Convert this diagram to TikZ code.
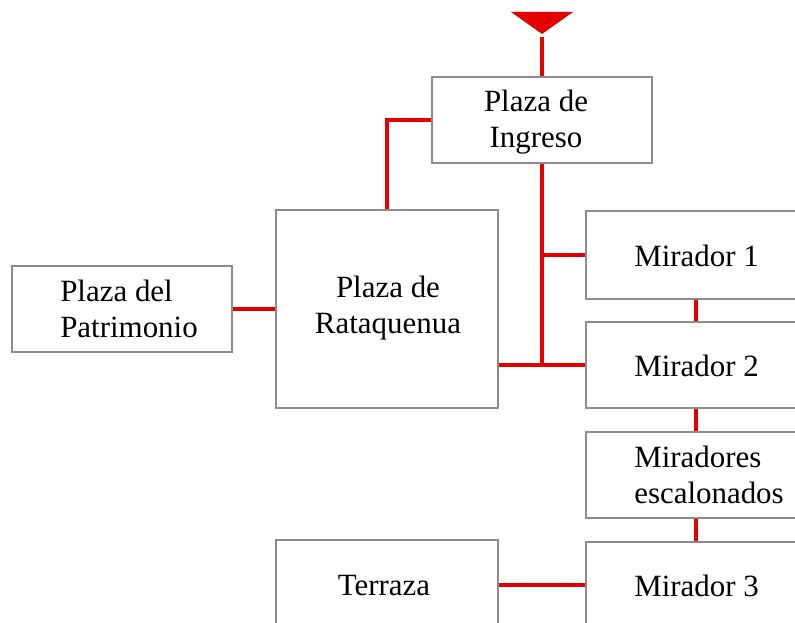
\documentclass[tikz,border=0pt]{standalone}
\usepackage{fontspec}
\setmainfont{Liberation Serif}
\begin{document}
\begin{tikzpicture}[x=0.75pt,y=-0.75pt,
  box/.style={draw=black!45,line width=1.1pt,fill=white,
    minimum width=165pt,minimum height=64.5pt,inner sep=0pt},
  lbl/.style={inner sep=0pt,font=\fontsize{23.2}{27}\selectfont},
  lblc/.style={lbl,align=center},
  lbll/.style={lbl,align=left,anchor=west},
  link/.style={draw=red!90!black,line width=2.3pt}]
\useasboundingbox (0,0) rectangle (795,623);
\fill[white] (0,0) rectangle (795,623);
% entry triangle
\fill[red!90!black] (511,12) -- (573,12) -- (542,34) -- cycle;
\coordinate (entry) at (542,37);
% boxes
\node[box] (ingreso) at (542,120) {};
\node[box,minimum width=166.5pt,minimum height=148.5pt] (rata) at (387,309) {};
\node[box] (patri) at (122,309) {};
\node[box,minimum height=66pt] (m1) at (696,255) {};
\node[box] (m2) at (696,365) {};
\node[box] (esc) at (696,475) {};
\node[box] (m3) at (696,585) {};
\node[box,minimum width=166.5pt,minimum height=67.5pt] (terraza) at (387,585) {};
% labels
\node[lblc] (ingresoT) at (536,122) {Plaza de\\Ingreso};
\node[lblc] (rataT) at (388,308) {Plaza de\\Rataquenua};
\node[lbll] (patriT) at (60,309) {Plaza del\\Patrimonio};
\node[lbll] (m1T) at (634,256) {Mirador 1};
\node[lbll] (m2T) at (634,366) {Mirador 2};
\node[lbll] (escT) at (634,475) {Miradores\\escalonados};
\node[lbll] (m3T) at (634,586) {Mirador 3};
\node[lblc] (terrazaT) at (384,586) {Terraza};
% connectors
\draw[link] (entry) -- (ingreso.north);
\draw[link] (ingreso.west) -| (rata.north);
\draw[link] (ingreso.south) -- (ingreso.south |- m2.west);
\draw[link] (ingreso.south |- m1.west) -- (m1.west);
\draw[link] (rata.east |- m2.west) -- (m2.west);
\draw[link] (patri.east) -- (rata.west);
\draw[link] (m1.south) -- (m2.north);
\draw[link] (m2.south) -- (esc.north);
\draw[link] (esc.south) -- (m3.north);
\draw[link] (terraza.east |- m3.west) -- (m3.west);
\end{tikzpicture}
\end{document}
